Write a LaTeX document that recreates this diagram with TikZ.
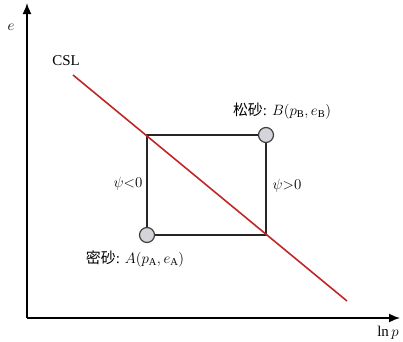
\RequirePackage{fix-cm}
\documentclass[tikz,border=0pt]{standalone}
\usepackage{fontspec}
\setmainfont{Liberation Serif}
\newfontfamily\cjk{Noto Sans CJK SC}
\usetikzlibrary{arrows.meta}
\definecolor{cslred}{RGB}{192,38,38}
\definecolor{ptgray}{RGB}{212,212,218}

\begin{document}
\begin{tikzpicture}[x=1bp, y=-1bp, >={Latex[length=11bp,width=9bp]}, font=\fontsize{15}{17}\selectfont]
    \useasboundingbox (0,0) rectangle (403,342);
    % axes
    \coordinate (origin) at (27,318);
    \coordinate (ytip) at (27,3);
    \coordinate (xtip) at (400,318);
    \draw[->, line width=1.6bp] (origin) -- (ytip);
    \draw[->, line width=1.6bp] (origin) -- (xtip);
    \node (elabel) at (11,27) {$e$};
    \node (lnplabel) at (388,333) {$\ln p$};

    % states
    \node[circle, draw=black!75, fill=ptgray, line width=1.2bp, minimum size=15bp, inner sep=0pt] (ptB) at (266,135) {};
    \node[circle, draw=black!75, fill=ptgray, line width=1.2bp, minimum size=15bp, inner sep=0pt] (ptA) at (147,235) {};
    \coordinate (tl) at (147,135);
    \coordinate (br) at (266,235);
    \draw[line width=1.6bp, black!85] (ptA) -- (tl) -- (ptB);
    \draw[line width=1.6bp, black!85] (ptB) -- (br) -- (ptA);

    % critical state line
    \coordinate (cslstart) at (73,75);
    \coordinate (cslend) at (347,301);
    \draw[cslred, line width=1.6bp] (cslstart) -- (cslend);
    \node (csl) at (66,61) {CSL};

    \node (negpsi) at (128,184) {$\psi{<}0$};
    \node (pospsi) at (287,186) {$\psi{>}0$};
    \node (labelB) at (282,111) {{\cjk 松砂}: $B(p_{\mathrm{B}}, e_{\mathrm{B}})$};
    \node (labelA) at (135,259) {{\cjk 密砂}: $A(p_{\mathrm{A}}, e_{\mathrm{A}})$};
\end{tikzpicture}
\end{document}
